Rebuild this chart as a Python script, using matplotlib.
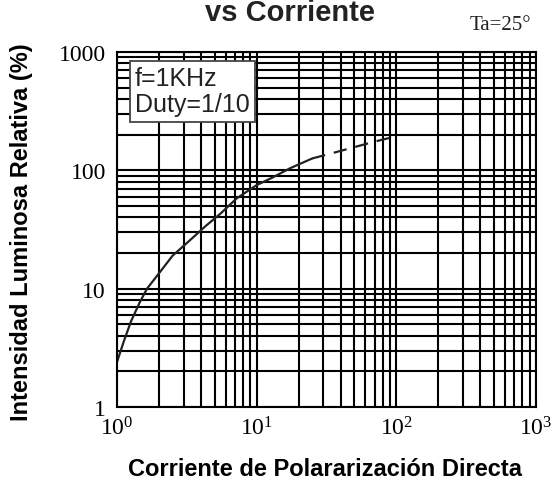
import matplotlib
matplotlib.use("Agg")
import matplotlib.pyplot as plt
from matplotlib.ticker import LogLocator, NullFormatter, FixedLocator

# Data
current_solid = [1, 1.12, 1.26, 1.45, 1.64, 2.0, 2.5, 3.2, 4.27, 5.5, 7.2, 10, 13, 17.3, 25]
lum_solid = [2.4, 3.6, 5.3, 7.6, 10, 13.5, 19, 24.6, 33.5, 43, 58, 75, 87, 104, 126]
current_dash = [25, 35, 50, 70, 100]
lum_dash = [126, 140, 157, 175, 194]

x_ticks = [1, 10, 100, 1000]
x_tick_labels = [r"$\mathregular{10^{0}}$", r"$\mathregular{10^{1}}$", r"$\mathregular{10^{2}}$", r"$\mathregular{10^{3}}$"]
y_ticks = [1, 10, 100, 1000]
y_tick_labels = ["1", "10", "100", "1000"]

serif = ["Liberation Serif", "DejaVu Serif"]
sans = ["Liberation Sans", "DejaVu Sans"]

plt.rcParams["mathtext.fontset"] = "custom"
plt.rcParams["mathtext.rm"] = "Liberation Serif"

fig = plt.figure(figsize=(5.53, 4.89), dpi=100)
ax = fig.add_axes([117/553, 1-408/489, (536-117)/553, (408-53)/489])
ax.set_xscale("log")
ax.set_yscale("log")
ax.set_xlim(1, 1000)
ax.set_ylim(1, 1000)

ax.grid(True, which="both", color="black", linewidth=1.5)
ax.set_axisbelow(True)

ax.plot(current_solid, lum_solid, color="#222222", linewidth=1.6, solid_capstyle="round")
ax.plot(current_dash, lum_dash, color="#222222", linewidth=1.6, dashes=(6, 4))

ax.xaxis.set_major_locator(FixedLocator(x_ticks))
ax.yaxis.set_major_locator(FixedLocator(y_ticks))
ax.xaxis.set_minor_locator(LogLocator(base=10, subs=range(2, 10)))
ax.yaxis.set_minor_locator(LogLocator(base=10, subs=range(2, 10)))
ax.xaxis.set_minor_formatter(NullFormatter())
ax.yaxis.set_minor_formatter(NullFormatter())
ax.set_xticklabels(x_tick_labels, fontfamily=serif, fontsize=17)
ax.set_yticklabels(y_tick_labels, fontfamily=serif, fontsize=17)
ax.tick_params(which="both", length=0)
ax.tick_params(axis="y", pad=8)
ax.tick_params(axis="x", pad=7)
for s in ax.spines.values():
    s.set_color("black")
    s.set_linewidth(1.5)

ax.text(0.043, 0.96, "f=1KHz\nDuty=1/10", transform=ax.transAxes, ha="left", va="top",
        fontsize=18, family=sans, color="#222222", linespacing=1.1,
        bbox=dict(boxstyle="square,pad=0.22", facecolor="white", edgecolor="#444444", linewidth=1.3))

fig.text(290/553, 1-21/489, "vs Corriente", ha="center", va="baseline", fontsize=21,
         fontweight="bold", family=sans, color="#222222")
fig.text(500/553, 1-25/489, "Ta=25°", ha="center", va="center", fontsize=15,
         family=serif, color="#222222")

fig.text(22/553, 1-232/489, "Intensidad Luminosa Relativa (%)", rotation=90, ha="center", va="center",
         fontsize=17, fontweight="bold", family=sans, color="black")
fig.text(325/553, 1-470/489, "Corriente de Polararización Directa", ha="center", va="center",
         fontsize=17, fontweight="bold", family=sans, color="black")

fig.savefig("out.png", dpi=100)
